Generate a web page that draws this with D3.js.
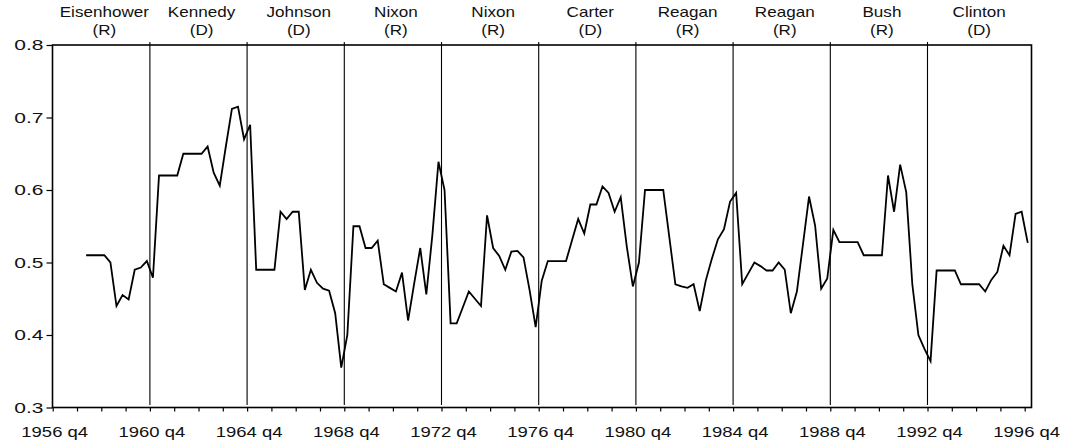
<!DOCTYPE html>
<html>
<head>
<meta charset="utf-8">
<script src="https://cdn.jsdelivr.net/npm/d3@7"></script>
<style>
  html, body { margin: 0; padding: 0; background: #fff; }
  svg { display: block; }
  text { font-family: "Liberation Sans", Arial, sans-serif; fill: #111; }
</style>
</head>
<body>
<svg id="chart" width="1068" height="444"></svg>
<script>
// ---- data ----
// quarters counted from 1956 q4 (index 0); first observation 1958 q1 (index 5)
const startIndex = 5;
const values = [
  0.51, 0.51, 0.51, 0.51, 0.50, 0.44, 0.455, 0.449, 0.49, 0.493, 0.502, 0.479,
  0.62, 0.62, 0.62, 0.62, 0.65, 0.65, 0.65, 0.65, 0.66, 0.624, 0.606, 0.66,
  0.712, 0.715, 0.67, 0.69,
  0.49, 0.49, 0.49, 0.49, 0.57, 0.56, 0.57, 0.57, 0.462, 0.49, 0.472, 0.464,
  0.461, 0.43, 0.355, 0.40,
  0.55, 0.55, 0.52, 0.52, 0.53, 0.47, 0.465, 0.46, 0.486, 0.42, 0.471, 0.52,
  0.456, 0.538, 0.639, 0.60,
  0.416, 0.416, 0.438, 0.46, 0.45, 0.44, 0.565, 0.52, 0.509, 0.49, 0.515, 0.516,
  0.507, 0.462, 0.411, 0.475,
  0.502, 0.502, 0.502, 0.502, 0.531, 0.56, 0.54, 0.58, 0.58, 0.605, 0.596, 0.57,
  0.59, 0.522, 0.467, 0.50,
  0.60, 0.60, 0.60, 0.60, 0.535, 0.47, 0.467, 0.465, 0.47, 0.433, 0.475, 0.505,
  0.532, 0.546, 0.584, 0.596,
  0.47, 0.485, 0.50, 0.495, 0.489, 0.489, 0.50, 0.49, 0.43, 0.46, 0.525, 0.591,
  0.551, 0.464, 0.478, 0.545,
  0.528, 0.528, 0.528, 0.528, 0.51, 0.51, 0.51, 0.51, 0.62, 0.57, 0.635, 0.597,
  0.47, 0.40, 0.381, 0.364,
  0.489, 0.489, 0.489, 0.489, 0.47, 0.47, 0.47, 0.47, 0.46, 0.476, 0.487, 0.523,
  0.51, 0.567, 0.57, 0.527
];
const presidents = ["Eisenhower", "Kennedy", "Johnson", "Nixon", "Nixon", "Carter", "Reagan", "Reagan", "Bush", "Clinton"];
const parties = ["(R)", "(D)", "(D)", "(R)", "(R)", "(D)", "(R)", "(R)", "(R)", "(D)"];
// term boundaries (quarter index; election-year q4)
const termBreaks = [0, 16, 32, 48, 64, 80, 96, 112, 128, 144, 160];
const yTicks = [0.3, 0.4, 0.5, 0.6, 0.7, 0.8];
const firstYear = 1956;

// ---- layout ----
const svg = d3.select("#chart");
const L = 52.5, R = 1031.5, T = 45, B = 407.5;
const x = d3.scaleLinear().domain([0, 161]).range([52.7, 52.7 + 161 * 6.075]);
const y = d3.scaleLinear().domain([0.3, 0.8]).range([B, T]);

const data = values.map((v, i) => ({ q: startIndex + i, v }));

// frame
svg.append("rect").attr("x", L).attr("y", T).attr("width", R - L).attr("height", B - T)
  .attr("fill", "none").attr("stroke", "#000").attr("stroke-width", 1.6);

// vertical term lines
svg.append("g").selectAll("line").data(termBreaks.slice(1, -1)).join("line")
  .attr("x1", d => x(d)).attr("x2", d => x(d))
  .attr("y1", T - 3).attr("y2", B - 2.5)
  .attr("stroke", "#000").attr("stroke-width", 1.1);

// y axis
const yAxis = d3.axisLeft(y).tickValues(yTicks).tickSize(6).tickPadding(3).tickFormat(d3.format(".1f"));
const gy = svg.append("g").attr("transform", `translate(${L},0)`).call(yAxis);
gy.select(".domain").remove();
gy.selectAll("line").attr("stroke-width", 1.2);
gy.selectAll(".tick text").style("font-size", "14px").attr("x", 0).attr("dy", "0.35em")
  .attr("transform", "translate(-9,0) scale(1.5,1)");

// x axis
const yearTicks = d3.range(0, 161, 4);
const xAxis = d3.axisBottom(x).tickValues(yearTicks).tickSize(4).tickPadding(3)
  .tickFormat(d => (d % 16 === 0) ? `${firstYear + d / 4} q4` : "");
const gx = svg.append("g").attr("transform", `translate(0,${B})`).call(xAxis);
gx.select(".domain").remove();
gx.selectAll("line").attr("stroke-width", 1.2);
gx.selectAll(".tick text").style("font-size", "14px").attr("y", 0).attr("dy", 0)
  .attr("transform", "translate(1.5,29) scale(1.32,1)");

// data line (observations sit mid-quarter)
const line = d3.line().x(d => x(d.q + 0.5)).y(d => y(d.v));
svg.append("path").datum(data).attr("d", line)
  .attr("fill", "none").attr("stroke", "#000").attr("stroke-width", 1.8)
  .attr("stroke-linejoin", "miter");

// president labels
const labels = presidents.map((p, i) => ({ p, party: parties[i], mid: (termBreaks[i] + termBreaks[i + 1]) / 2 + 0.5 }));
const gl = svg.append("g");
labels.forEach(d => {
  const g = gl.append("g").attr("transform", `translate(${x(d.mid)},0) scale(1.22,1)`);
  g.append("text").attr("x", 0).attr("y", 17.5).attr("text-anchor", "middle").style("font-size", "14px").text(d.p);
  g.append("text").attr("x", 0).attr("y", 35).attr("text-anchor", "middle").style("font-size", "14px").text(d.party);
});
</script>
</body>
</html>
